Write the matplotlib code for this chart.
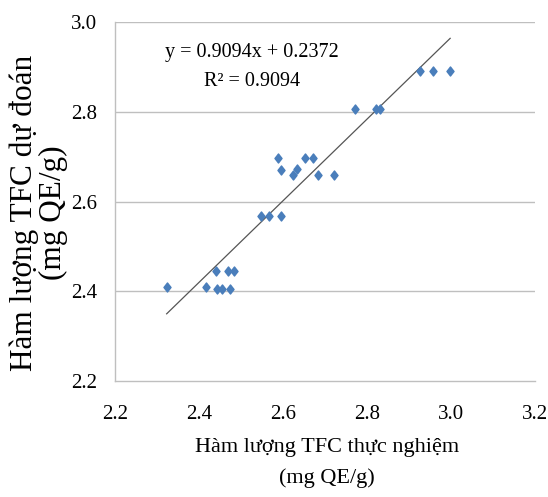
import numpy as np
import matplotlib
matplotlib.use('Agg')
import matplotlib.pyplot as plt
from matplotlib.path import Path

plt.rcParams['font.family'] = ['Liberation Serif', 'DejaVu Serif']

# du lieu doc tu hinh
tfc_thuc_nghiem = [2.323, 2.417, 2.440, 2.444, 2.454, 2.468, 2.483, 2.473,
                   2.548, 2.567, 2.596, 2.587, 2.596, 2.625, 2.634, 2.652,
                   2.671, 2.684, 2.721, 2.771, 2.821, 2.831, 2.927, 2.957, 2.998]
tfc_du_doan = [2.410, 2.410, 2.446, 2.406, 2.406, 2.446, 2.446, 2.406,
               2.567, 2.567, 2.567, 2.698, 2.671, 2.658, 2.672, 2.698,
               2.698, 2.658, 2.658, 2.806, 2.806, 2.806, 2.891, 2.891, 2.891]

he_so_a = 0.9094
he_so_b = 0.2372
r2 = 0.9094

xticks = [2.2, 2.4, 2.6, 2.8, 3.0, 3.2]
yticks = [2.2, 2.4, 2.6, 2.8, 3.0]

# hinh thoi hoi cao
kim_cuong = Path([(0, 1), (0.78, 0), (0, -1), (-0.78, 0), (0, 1)],
                 [Path.MOVETO, Path.LINETO, Path.LINETO, Path.LINETO, Path.CLOSEPOLY])

fig = plt.figure(figsize=(5.48, 4.97), dpi=100)
ax = fig.add_axes([115 / 548, 1 - 381 / 497, 420 / 548, 359 / 497])

for y in yticks[1:]:
    ax.axhline(y, color='#bfbfbf', lw=1, zorder=0)

ax.plot(tfc_thuc_nghiem, tfc_du_doan, linestyle='none', marker=kim_cuong,
        markersize=6.5, color='#4a7ebb', zorder=3)

# duong hoi quy
xl = np.array([min(tfc_thuc_nghiem), max(tfc_thuc_nghiem)])
ax.plot(xl, he_so_a * xl + he_so_b, color='#555555', lw=0.9, zorder=2)

ax.text(2.526, 2.900, f'y = {he_so_a}x + {he_so_b}\nR² = {r2}',
        ha='center', va='center', fontsize=14.5, linespacing=1.75)

ax.set_xlim(2.2, 3.2)
ax.set_ylim(2.2, 3.0)
ax.set_xticks(xticks)
ax.set_yticks(yticks)
ax.set_xticklabels([f'{v:.1f}' for v in xticks], fontsize=15)
ax.set_yticklabels([f'{v:.1f}' for v in yticks], fontsize=15)
ax.tick_params(axis='x', length=0, pad=17)
ax.tick_params(axis='y', length=0, pad=13)

for s in ['top', 'right']:
    ax.spines[s].set_visible(False)
for s in ['left', 'bottom']:
    ax.spines[s].set_color('#bfbfbf')
    ax.spines[s].set_linewidth(1)

fig.text(327 / 548, 1 - 463 / 497, 'Hàm lượng TFC thực nghiệm\n(mg QE/g)',
         ha='center', va='center', fontsize=16, linespacing=1.75)
fig.text(39 / 548, 1 - 213 / 497, 'Hàm lượng TFC dự đoán\n(mg QE/g)',
         ha='center', va='center', rotation=90, fontsize=22.5, linespacing=1.0)

fig.savefig('out.png', dpi=100)
